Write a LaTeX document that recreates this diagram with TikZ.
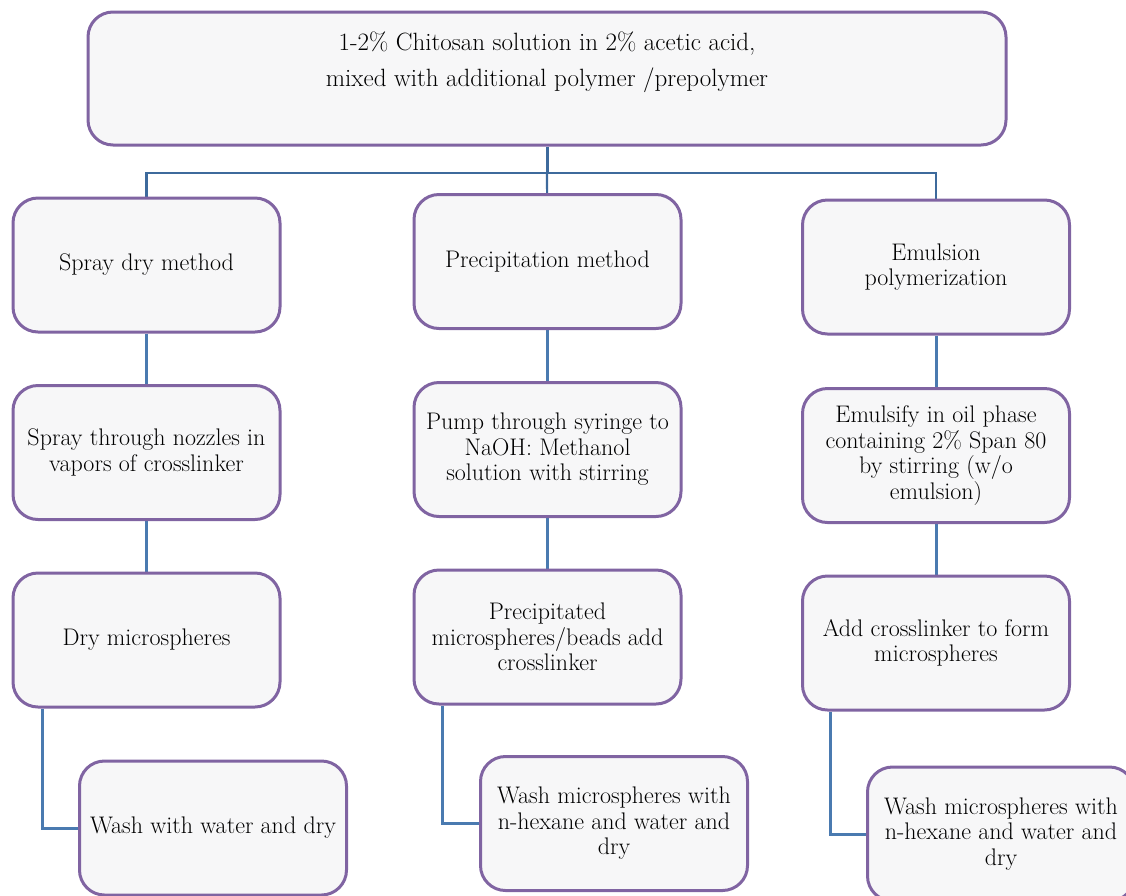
\documentclass[tikz,border=0pt]{standalone}
\pgfdeclarelayer{nodelayer}
\pgfdeclarelayer{edgelayer}
\pgfsetlayers{edgelayer,nodelayer,main}
\definecolor{boxline}{HTML}{8064A2}
\definecolor{boxfill}{HTML}{F7F7F8}
\definecolor{linkline}{HTML}{4A7AB0}
\definecolor{busline}{HTML}{3D6A9C}
\tikzstyle{box}=[draw=boxline, fill=boxfill, line width=3pt, rounded corners=25pt, minimum width=267pt, minimum height=134pt, align=center, font=\fontsize{24}{25.5}\selectfont]
\tikzstyle{link}=[draw=linkline, line width=3pt]
\tikzstyle{bus}=[draw=busline, line width=2.2pt]

\begin{document}
\begin{tikzpicture}[x=1pt, y=-1pt]
	\useasboundingbox (0, 0) rectangle (1126, 895);
	\begin{pgfonlayer}{nodelayer}
		\node [style=box, minimum width=918pt, minimum height=133pt, label={[align=center, yshift=16pt, font=\fontsize{25}{36}\selectfont]center:1-2\% Chitosan solution in 2\% acetic acid,\\mixed with additional polymer /prepolymer}] (0) at (547, 78.5) {};
		\coordinate (b) at (547, 173);
		\node [style=box] (1) at (146.5, 265) {Spray dry method};
		\node [style=box] (2) at (547.5, 261.5) {Precipitation method};
		\node [style=box] (3) at (936, 267) {Emulsion\\polymerization};
		\node [style=box] (4) at (146.5, 452.5) {Spray through nozzles in\\vapors of crosslinker};
		\node [style=box] (5) at (547.5, 449.5) {Pump through syringe to\\NaOH: Methanol\\solution with stirring};
		\node [style=box] (6) at (936, 455.5) {Emulsify in oil phase\\containing 2\% Span 80\\by stirring (w/o\\emulsion)};
		\node [style=box] (7) at (146.5, 640) {Dry microspheres};
		\node [style=box] (8) at (547.5, 637) {Precipitated\\microspheres/beads add\\crosslinker};
		\node [style=box] (9) at (936, 643) {Add crosslinker to form\\microspheres};
		\node [style=box] (10) at (213, 828) {Wash with water and dry};
		\node [style=box] (11) at (614, 823.5) {Wash microspheres with\\n-hexane and water and\\dry};
		\node [style=box] (12) at (1001, 834) {Wash microspheres with\\n-hexane and water and\\dry};
	\end{pgfonlayer}
	\begin{pgfonlayer}{edgelayer}
		\draw [style=bus, line width=3pt] (0) to (b);
		\draw [style=bus] (b) -| (1);
		\draw [style=bus] (b) to (2);
		\draw [style=bus] (b) -| (3);
		\draw [style=link] (1) to (4);
		\draw [style=link] (2) to (5);
		\draw [style=link] (3) to (6);
		\draw [style=link] (4) to (7);
		\draw [style=link] (5) to (8);
		\draw [style=link] (6) to (9);
		\draw [style=link] ([xshift=31pt]7.south west) |- (10);
		\draw [style=link] ([xshift=30pt]8.south west) |- (11);
		\draw [style=link] ([xshift=29pt]9.south west) |- (12);
	\end{pgfonlayer}
\end{tikzpicture}
\end{document}
